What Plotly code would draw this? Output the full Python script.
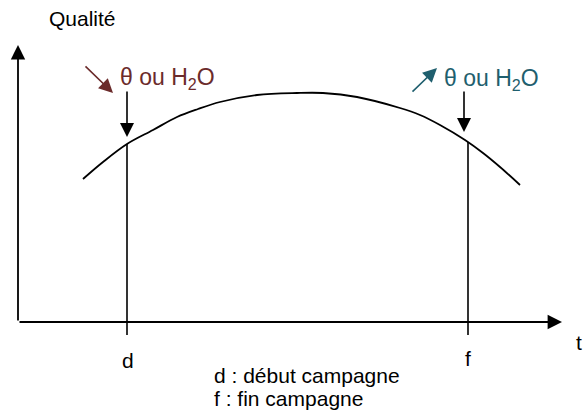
import plotly.graph_objects as go

# Quality curve over the campaign (t, quality)
curve_t = [6.5, 8.5, 10.9, 13.5, 15.9, 18.0, 20.2, 23.9, 27.9, 30.5, 33.9, 38.2, 40.2, 42.2, 44.7, 46.5, 48.2, 50.2]
curve_q = [14.3, 16.0, 17.8, 19.2, 20.5, 21.3, 22.0, 22.7, 22.9, 22.9, 22.5, 21.4, 20.7, 19.7, 18.2, 16.9, 15.5, 13.7]

# start (d) and end (f) of campaign
d_t, d_q = 10.9, 17.8
f_t, f_q = 45.0, 18.0
tick_bottom = -1.3

# axis extents
t_max = 54.4
q_max = 27.7

FONT = "Liberation Sans, Arial, sans-serif"
RED = "#6b2b2b"
TEAL = "#1f5f6e"

fig = go.Figure()

# the curve
fig.add_trace(go.Scatter(
    x=curve_t, y=curve_q, mode='lines',
    line=dict(color='black', width=1.8, shape='spline'),
    hoverinfo='skip'
))

# vertical lines at d and f
for t_val, q_val in [(d_t, d_q), (f_t, f_q)]:
    fig.add_trace(go.Scatter(
        x=[t_val, t_val], y=[q_val, tick_bottom], mode='lines',
        line=dict(color='black', width=1.6),
        hoverinfo='skip'
    ))


def arrow(x, y, ax, ay, color='black', width=1.6, size=1.75):
    fig.add_annotation(
        x=x, y=y, ax=ax, ay=ay, xref='x', yref='y', axref='x', ayref='y',
        text='', showarrow=True, arrowhead=2, arrowsize=size,
        arrowwidth=width, arrowcolor=color, standoff=0, startstandoff=0
    )


# axes
arrow(0, q_max, 0, 0, width=1.8, size=1.6)
arrow(t_max, 0, 0, 0, width=1.8, size=1.6)

# down arrows onto the curve
arrow(10.9, 18.5, 10.9, 23.2)
arrow(44.6, 19.0, 44.6, 23.2)

# decreasing / increasing theta or H2O
arrow(9.5, 22.9, 6.6, 25.7, color=RED)
arrow(41.9, 25.4, 39.3, 22.9, color=TEAL)


def label(x, y, text, size=21, color='black', xanchor='center'):
    fig.add_annotation(
        x=x, y=y, xref='x', yref='y', text=text, showarrow=False,
        xanchor=xanchor, yanchor='middle',
        font=dict(family=FONT, size=size, color=color)
    )


label(2.9, 30.4, 'Qualité', xanchor='left')
label(10.0, 24.4, 'θ ou H<sub>2</sub>O', size=23, color=RED, xanchor='left')
label(42.4, 24.3, 'θ ou H<sub>2</sub>O', size=23, color=TEAL, xanchor='left')
label(11.0, -3.8, 'd')
label(45.0, -3.6, 'f')
label(56.1, -2.0, 't')
label(19.4, -5.3, 'd : début campagne', xanchor='left')
label(19.4, -7.6, 'f : fin campagne', xanchor='left')

fig.update_layout(
    width=583, height=419,
    margin=dict(l=0, r=0, t=0, b=0),
    showlegend=False,
    plot_bgcolor='white', paper_bgcolor='white',
    xaxis=dict(range=[-1.8, 56.5], visible=False, fixedrange=True),
    yaxis=dict(range=[-9.7, 32.2], visible=False, fixedrange=True),
)

# drop the default page margin so the figure fills the window exactly
fig.write_html(
    "out.html",
    config={'displayModeBar': False, 'staticPlot': True},
    post_script="document.body.style.margin = '0';"
)
